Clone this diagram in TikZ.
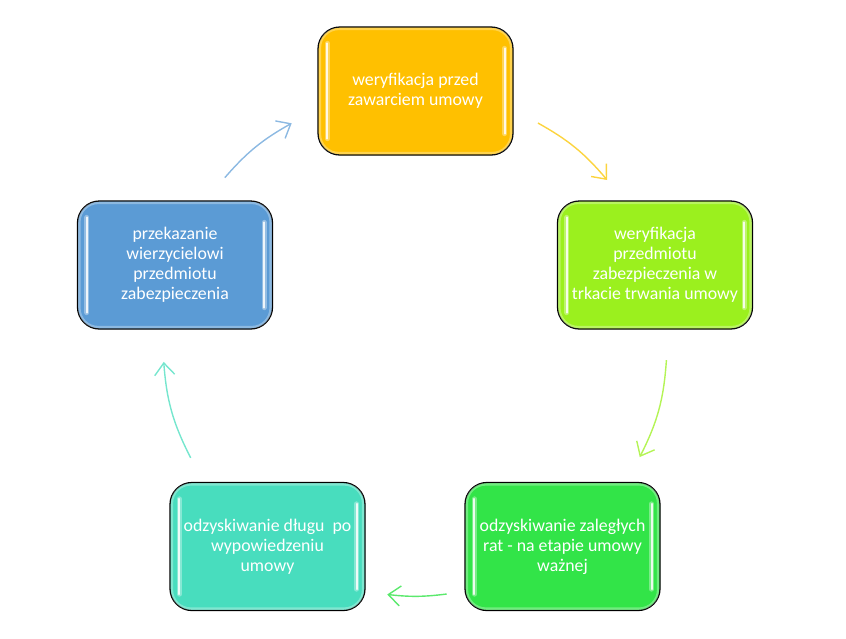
\documentclass[tikz,border=0pt]{standalone}
\usepackage{fontspec}
\setmainfont{Carlito}
\usepackage{xcolor}
\usepackage{tikz}
\usetikzlibrary{arrows.meta}

\definecolor{boxyellow}{HTML}{FFC000}
\definecolor{boxlime}{HTML}{9BF01E}
\definecolor{boxgreen}{HTML}{32E448}
\definecolor{boxteal}{HTML}{48DDBE}
\definecolor{boxblue}{HTML}{5B9BD5}

\tikzset{
  stage/.style={draw=black, line width=1.3pt, rounded corners=22pt,
    minimum width=195pt, minimum height=128pt, inner sep=2pt,
    align=center, text=white, font=\fontsize{17.8}{20}\selectfont},
  cyc/.style={line width=1.4pt,
    -{Straight Barb[length=12pt,width=20pt,line width=1.4pt]}},
  gloss/.style={white, opacity=0.85, line width=2pt, line cap=round},
  glow/.style={white, opacity=0.35, line width=5pt, line cap=round},
  rim/.style={white, opacity=0.3, line width=2.5pt, rounded corners=19pt}
}

\begin{document}
\begin{tikzpicture}[x=1pt,y=-1pt]
\useasboundingbox (0,0) rectangle (846,638);

\node[stage, fill=boxyellow] (ver) at (415.5,91) {weryfikacja przed\\zawarciem umowy};
\node[stage, fill=boxlime] (zab) at (655,265) {weryfikacja\\przedmiotu\\zabezpieczenia w\\trkacie trwania umowy};
\node[stage, fill=boxgreen] (rat) at (562.5,546.5) {odzyskiwanie zaległych\\rat - na etapie umowy\\ważnej};
\node[stage, fill=boxteal] (dlug) at (267.5,546.5) {odzyskiwanie długu\ \ po\\wypowiedzeniu\\umowy};
\node[stage, fill=boxblue] (przek) at (175,265) {przekazanie\\wierzycielowi\\przedmiotu\\zabezpieczenia};

% glossy strips
\foreach \n in {ver,zab,rat,dlug,przek}{
  \draw[rim] ([xshift=2.5pt,yshift=-2.5pt]\n.north west) rectangle ([xshift=-2.5pt,yshift=2.5pt]\n.south east);
  \draw[glow] ([xshift=10pt,yshift=-17pt]\n.north west) -- ([xshift=10pt,yshift=17pt]\n.south west);
  \draw[glow] ([xshift=-9pt,yshift=-22pt]\n.north east) -- ([xshift=-9pt,yshift=22pt]\n.south east);
  \draw[gloss] ([xshift=10pt,yshift=-17pt]\n.north west) -- ([xshift=10pt,yshift=17pt]\n.south west);
  \draw[gloss] ([xshift=-9pt,yshift=-22pt]\n.north east) -- ([xshift=-9pt,yshift=22pt]\n.south east);
}

% arrow ends on the circle round the cycle
\coordinate (mid) at (415,343);
\path (mid) ++(-60.8:252) coordinate (ver-out)   (mid) ++(-40.3:252) coordinate (zab-in);
\path (mid) ++(3.9:252)   coordinate (zab-out)   (mid) ++(26.9:252)  coordinate (rat-in);
\path (mid) ++(82.8:253)  coordinate (rat-out)   (mid) ++(96.3:253)  coordinate (dlug-in);
\path (mid) ++(152.9:252) coordinate (dlug-out)  (mid) ++(175.7:252) coordinate (przek-in);
\path (mid) ++(221:252)   coordinate (przek-out) (mid) ++(240.7:252) coordinate (ver-in);

\draw[cyc, color=yellow!60!orange!75!white] (ver-out) to[bend left=10.3] (zab-in);
\draw[cyc, color=boxlime!75!white] (zab-out) to[bend left=11.5] (rat-in);
\draw[cyc, color=boxgreen!80!white] (rat-out) to[bend left=6.8] (dlug-in);
\draw[cyc, color=boxteal!75!white] (dlug-out) to[bend left=11.4] (przek-in);
\draw[cyc, color=boxblue!70!white] (przek-out) to[bend left=9.9] (ver-in);

\end{tikzpicture}
\end{document}
